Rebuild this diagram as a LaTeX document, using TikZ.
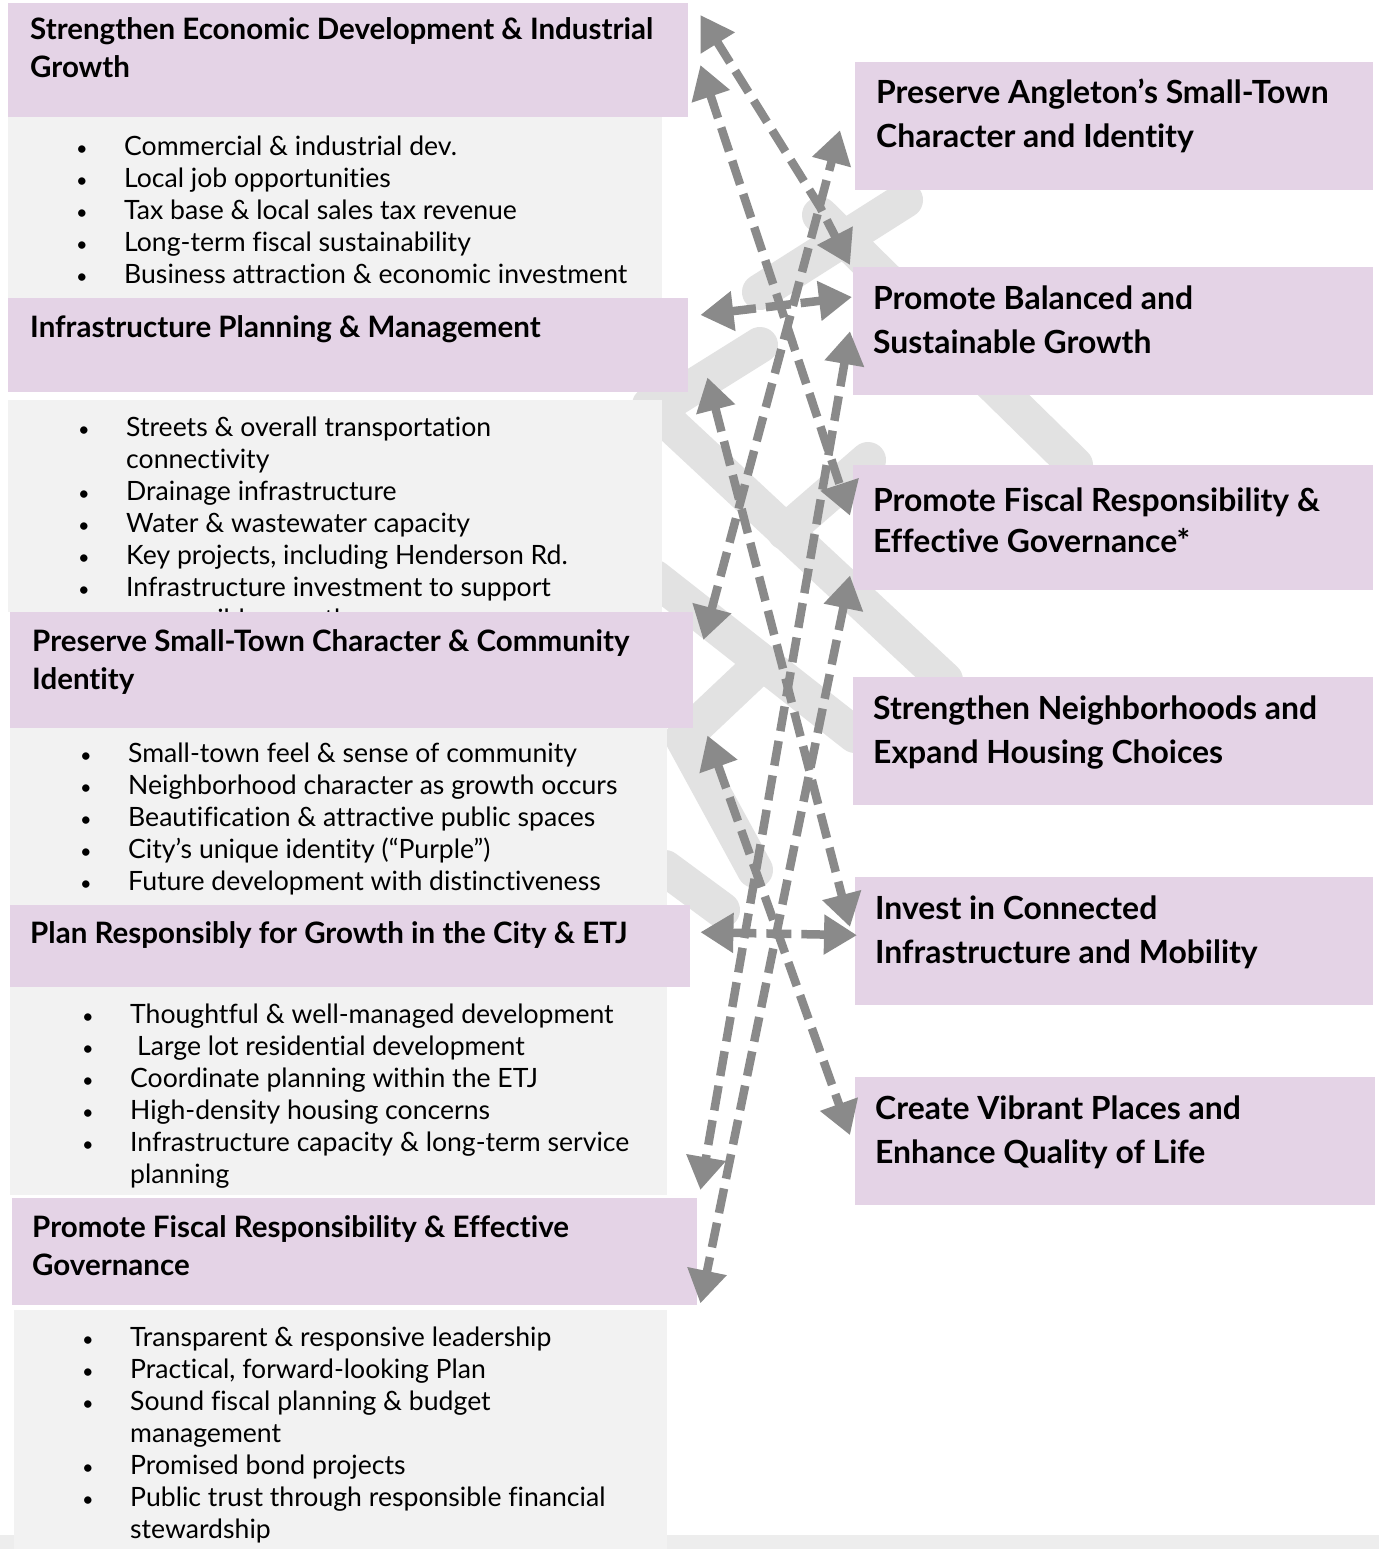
\documentclass[tikz,border=0pt]{standalone}
\usepackage{fontspec}
\setmainfont{Lato}[Ligatures=NoCommon]
\usepackage{array}
\usetikzlibrary{arrows.meta}
\definecolor{hdrpurple}{HTML}{E4D3E6}
\definecolor{listgray}{HTML}{F2F2F2}
\definecolor{bandgray}{HTML}{E2E2E2}
\definecolor{arrgray}{HTML}{8A8A8A}
\tikzstyle{hdr}=[draw=none,fill=hdrpurple,anchor=north west,inner sep=0pt]
\tikzstyle{lst}=[draw=none,fill=listgray,anchor=north west,inner sep=0pt]
\tikzstyle{hdtxt}=[anchor=base west,inner sep=0pt,font=\fontsize{29.5}{38}\selectfont\bfseries]
\tikzstyle{goaltxt}=[anchor=base west,inner sep=0pt,font=\fontsize{31.9}{44}\selectfont\bfseries]
\tikzstyle{lsttxt}=[anchor=base west,inner sep=0pt,font=\fontsize{26.6}{32}\selectfont]
\tikzstyle{band}=[draw=bandgray,line width=36pt,line cap=round,line join=round]
\tikzstyle{link}=[draw=arrgray,line width=8.5pt,dash pattern=on 25pt off 10pt,
  {Triangle[length=33pt,width=38pt]}-{Triangle[length=33pt,width=38pt]}]
\newcommand{\lines}[1]{\begin{tabular}[t]{@{}l@{}}#1\end{tabular}}
\newcommand{\blist}[1]{\begin{tabular}[t]{@{}p{48pt}@{}l@{}}#1\end{tabular}}
\newcommand{\bul}{\scalebox{0.75}{\textbullet}}

\begin{document}
\begin{tikzpicture}[x=1pt,y=-1pt]
    \useasboundingbox (0,0) rectangle (1379,1549);
    \fill[white] (0,0) rectangle (1379,1549);
    \fill[black!7] (0,1535) rectangle (1379,1549);

    % faded bands in the back
    \draw[band] (905,200) -- (760,292);
    \draw[band] (820,215) -- (1075,465);
    \draw[band] (760,345) -- (640,420);
    \draw[band] (650,405) -- (945,680);
    \draw[band] (868,460) -- (785,532);
    \draw[band] (655,578) -- (855,735);
    \draw[band] (755,670) -- (683,738) -- (755,870);
    \draw[band] (665,868) -- (722,910);

    % left column: topics and their lists
    \node[hdr,minimum width=680pt,minimum height=114pt] (L1) at (8,3) {};
    \node[lst,minimum width=654pt,minimum height=181pt] (S1) at (8,117) {};
    \node[hdtxt] (L1t) at ([shift={(22,37)}]L1.north west)
        {\lines{Strengthen Economic Development \& Industrial\\Growth}};
    \node[lsttxt] (S1t) at ([shift={(68,39)}]S1.north west) {\blist{
        \bul & Commercial \& industrial dev.\\
        \bul & Local job opportunities\\
        \bul & Tax base \& local sales tax revenue\\
        \bul & Long-term fiscal sustainability\\
        \bul & Business attraction \& economic investment}};

    \node[hdr,minimum width=680pt,minimum height=94pt] (L2) at (8,298) {};
    \node[lst,minimum width=654pt,minimum height=212pt] (S2) at (8,400) {};
    \node[hdtxt] (L2t) at ([shift={(22,39)}]L2.north west)
        {\lines{Infrastructure Planning \& Management}};
    \node[lsttxt] (S2t) at ([shift={(70,36)}]S2.north west) {\blist{
        \bul & Streets \& overall transportation\\
             & connectivity\\
        \bul & Drainage infrastructure\\
        \bul & Water \& wastewater capacity\\
        \bul & Key projects, including Henderson Rd.\\
        \bul & Infrastructure investment to support\\
             & responsible growth}};

    \node[hdr,minimum width=683pt,minimum height=116pt] (L3) at (10,612) {};
    \node[lst,minimum width=657pt,minimum height=177pt] (S3) at (10,728) {};
    \node[hdtxt] (L3t) at ([shift={(22,39)}]L3.north west)
        {\lines{Preserve Small-Town Character \& Community\\Identity}};
    \node[lsttxt] (S3t) at ([shift={(70,34)}]S3.north west) {\blist{
        \bul & Small-town feel \& sense of community\\
        \bul & Neighborhood character as growth occurs\\
        \bul & Beautification \& attractive public spaces\\
        \bul & City’s unique identity (“Purple”)\\
        \bul & Future development with distinctiveness}};

    \node[hdr,minimum width=680pt,minimum height=82pt] (L4) at (10,905) {};
    \node[lst,minimum width=657pt,minimum height=208pt] (S4) at (10,987) {};
    \node[hdtxt] (L4t) at ([shift={(20,38)}]L4.north west)
        {\lines{Plan Responsibly for Growth in the City \& ETJ}};
    \node[lsttxt] (S4t) at ([shift={(72,36)}]S4.north west) {\blist{
        \bul & Thoughtful \& well-managed development\\
        \bul & \hspace{7pt}Large lot residential development\\
        \bul & Coordinate planning within the ETJ\\
        \bul & High-density housing concerns\\
        \bul & Infrastructure capacity \& long-term service\\
             & planning}};

    \node[hdr,minimum width=685pt,minimum height=107pt] (L5) at (12,1198) {};
    \node[lst,minimum width=653pt,minimum height=239pt] (S5) at (14,1310) {};
    \node[hdtxt] (L5t) at ([shift={(20,39)}]L5.north west)
        {\lines{Promote Fiscal Responsibility \& Effective\\Governance}};
    \node[lsttxt] (S5t) at ([shift={(68,36)}]S5.north west) {\blist{
        \bul & Transparent \& responsive leadership\\
        \bul & Practical, forward-looking Plan\\
        \bul & Sound fiscal planning \& budget\\
             & management\\
        \bul & Promised bond projects\\
        \bul & Public trust through responsible financial\\
             & stewardship}};

    % right column: plan goals
    \node[hdr,minimum width=518pt,minimum height=128pt] (R1) at (855,62) {};
    \node[hdr,minimum width=520pt,minimum height=128pt] (R2) at (853,267) {};
    \node[hdr,minimum width=520pt,minimum height=125pt] (R3) at (853,465) {};
    \node[hdr,minimum width=520pt,minimum height=128pt] (R4) at (853,677) {};
    \node[hdr,minimum width=518pt,minimum height=128pt] (R5) at (855,877) {};
    \node[hdr,minimum width=520pt,minimum height=128pt] (R6) at (855,1077) {};
    \node[goaltxt] (R1t) at ([shift={(21,42)}]R1.north west)
        {\lines{Preserve Angleton’s Small-Town\\Character and Identity}};
    \node[goaltxt] (R2t) at ([shift={(20,42)}]R2.north west)
        {\lines{Promote Balanced and\\Sustainable Growth}};
    \node[goaltxt] (R3t) at ([shift={(20,46)}]R3.north west)
        {\lines{Promote Fiscal Responsibility \&\\[-3pt]Effective Governance*}};
    \node[goaltxt] (R4t) at ([shift={(20,42)}]R4.north west)
        {\lines{Strengthen Neighborhoods and\\Expand Housing Choices}};
    \node[goaltxt] (R5t) at ([shift={(20,42)}]R5.north west)
        {\lines{Invest in Connected\\Infrastructure and Mobility}};
    \node[goaltxt] (R6t) at ([shift={(20,42)}]R6.north west)
        {\lines{Create Vibrant Places and\\Enhance Quality of Life}};

    % links between topics and goals
    \coordinate (bend1) at (820,207);
    \draw[link] ([shift={(12,12)}]L1.north east) -- (bend1) -- ([shift={(-3,-2)}]R2.north west);
    \draw[link] ([shift={(12,62)}]L1.north east) -- ([shift={(-3,-12)}]R3.west);
    \draw[link] ([shift={(12,17)}]L2.north east) -- ([shift={(-1,30)}]R2.north west);
    \draw[link] ([shift={(10,28)}]L3.north east) -- ([shift={(-15,4)}]R1.west);
    \draw[link] ([shift={(19,-15)}]L2.south east) -- ([shift={(-5,50)}]R5.north west);
%    \draw[link] (L2.east) -- (R5.west);
    \draw[link] ([shift={(-3,0)}]R2.west) -- ([shift={(3,-8)}]L5.north east);
    \draw[link] ([shift={(-3,-15)}]R3.south west) -- ([shift={(3,-2)}]L5.south east);
    \draw[link] ([shift={(14,7)}]L3.south east) -- ([shift={(-5,-6)}]R6.west);
    \draw[link] ([shift={(10,-14)}]L4.east) -- ([shift={(2,-6)}]R5.west);

\end{tikzpicture}
\end{document}
